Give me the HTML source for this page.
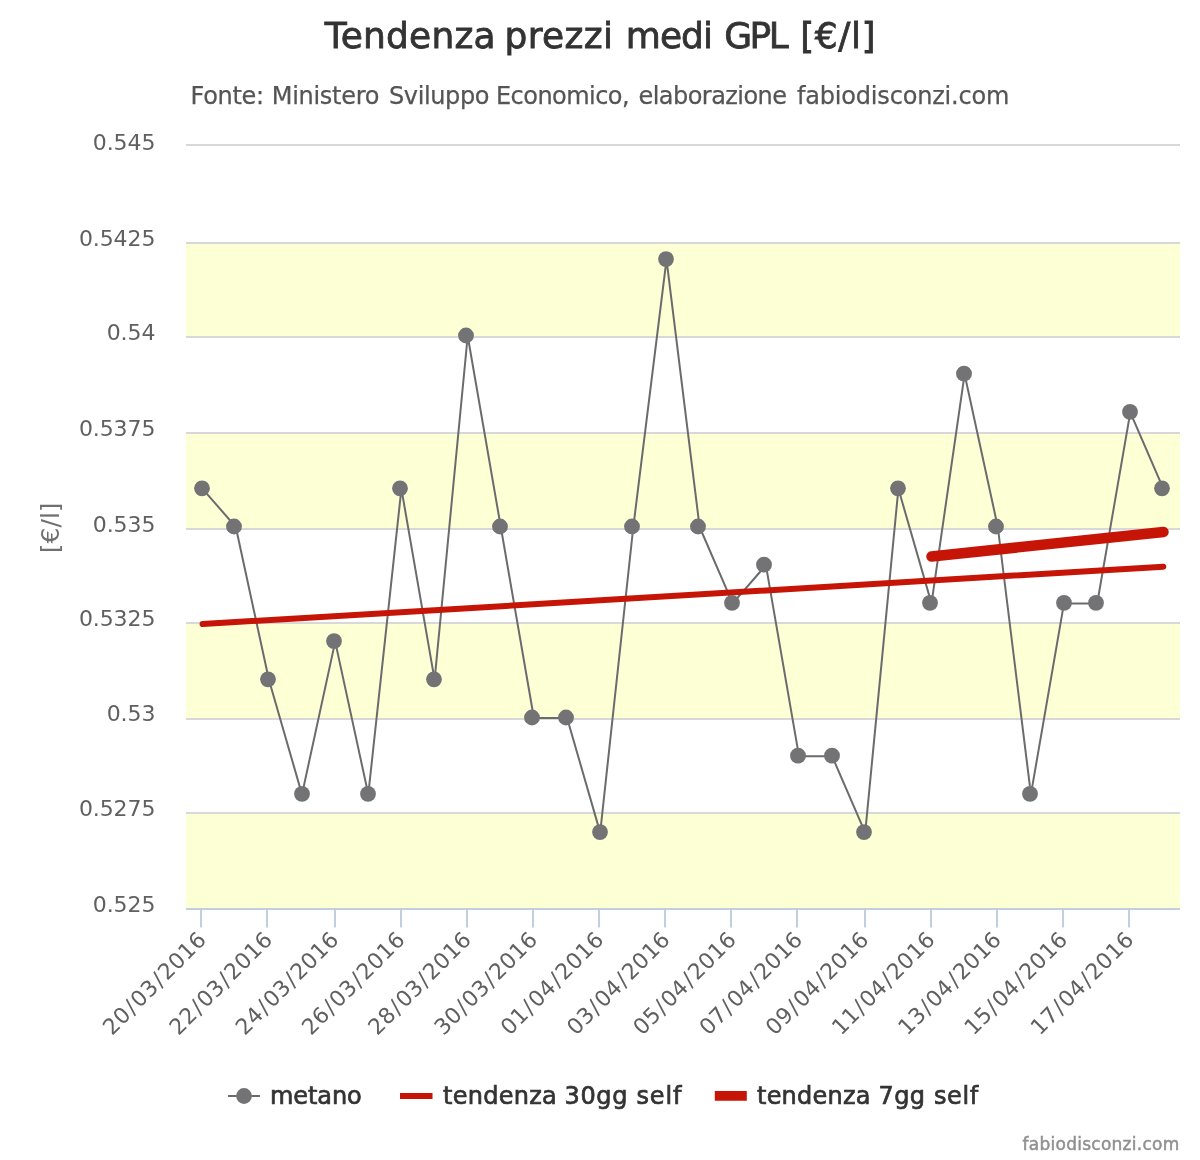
<!DOCTYPE html>
<html lang="it"><head><meta charset="utf-8"><title>Tendenza prezzi medi GPL</title>
<style>html,body{margin:0;padding:0;background:#fff}body{width:1200px;height:1160px;overflow:hidden}svg{display:block}text{font-family:"DejaVu Sans", "Liberation Sans", sans-serif}</style></head><body>
<svg width="1200" height="1160" viewBox="0 0 1200 1160">
<rect x="0" y="0" width="1200" height="1160" fill="#ffffff"/>
<g fill="#FDFFD5">
<rect x="186" y="243" width="994" height="94"/>
<rect x="186" y="433" width="994" height="96"/>
<rect x="186" y="623" width="994" height="96"/>
<rect x="186" y="813" width="994" height="96"/>
</g>
<g stroke="#D8D8D8" stroke-width="2" fill="none">
<path d="M186 145 H1180"/>
<path d="M186 243 H1180"/>
<path d="M186 337 H1180"/>
<path d="M186 433 H1180"/>
<path d="M186 529 H1180"/>
<path d="M186 623 H1180"/>
<path d="M186 719 H1180"/>
<path d="M186 813 H1180"/>
</g>
<g stroke="#C0D0E0" stroke-width="2" fill="none">
<path d="M186 909 H1180"/>
<path d="M201 909 V927.5"/>
<path d="M267 909 V927.5"/>
<path d="M335 909 V927.5"/>
<path d="M401 909 V927.5"/>
<path d="M467 909 V927.5"/>
<path d="M533 909 V927.5"/>
<path d="M599 909 V927.5"/>
<path d="M665 909 V927.5"/>
<path d="M731 909 V927.5"/>
<path d="M797 909 V927.5"/>
<path d="M865 909 V927.5"/>
<path d="M931 909 V927.5"/>
<path d="M997 909 V927.5"/>
<path d="M1063 909 V927.5"/>
<path d="M1129 909 V927.5"/>
</g>
<path d="M202.6 488.8 L235.8 527.0 L268.9 679.8 L302.0 794.4 L335.2 641.6 L368.3 794.4 L401.4 488.8 L434.6 679.8 L467.7 336.0 L500.8 527.0 L533.9 718.0 L567.1 718.0 L600.2 832.6 L633.3 527.0 L666.5 259.6 L699.6 527.0 L732.7 603.4 L765.9 565.2 L799.0 756.2 L832.1 756.2 L865.2 832.6 L898.4 488.8 L931.5 603.4 L964.6 374.2 L997.8 527.0 L1030.9 794.4 L1064.0 603.4 L1097.2 603.4 L1130.3 412.4 L1163.4 488.8" stroke="#6B6B6E" stroke-width="2" fill="none" stroke-linejoin="round" stroke-linecap="round"/>
<path d="M202.6 624 L1163.3 566.7" stroke="#C61407" stroke-width="6" fill="none" stroke-linecap="round"/>
<path d="M931.5 556.5 L1163.5 532" stroke="#C61407" stroke-width="10.5" fill="none" stroke-linecap="round"/>
<g fill="#737376">
<circle cx="202" cy="488.3" r="7.9"/>
<circle cx="234" cy="526.5" r="7.9"/>
<circle cx="268" cy="679.3" r="7.9"/>
<circle cx="302" cy="793.9" r="7.9"/>
<circle cx="334" cy="641.1" r="7.9"/>
<circle cx="368" cy="793.9" r="7.9"/>
<circle cx="400" cy="488.3" r="7.9"/>
<circle cx="434" cy="679.3" r="7.9"/>
<circle cx="466" cy="335.5" r="7.9"/>
<circle cx="500" cy="526.5" r="7.9"/>
<circle cx="532" cy="717.5" r="7.9"/>
<circle cx="566" cy="717.5" r="7.9"/>
<circle cx="600" cy="832.1" r="7.9"/>
<circle cx="632" cy="526.5" r="7.9"/>
<circle cx="666" cy="259.1" r="7.9"/>
<circle cx="698" cy="526.5" r="7.9"/>
<circle cx="732" cy="602.9" r="7.9"/>
<circle cx="764" cy="564.7" r="7.9"/>
<circle cx="798" cy="755.7" r="7.9"/>
<circle cx="832" cy="755.7" r="7.9"/>
<circle cx="864" cy="832.1" r="7.9"/>
<circle cx="898" cy="488.3" r="7.9"/>
<circle cx="930" cy="602.9" r="7.9"/>
<circle cx="964" cy="373.7" r="7.9"/>
<circle cx="996" cy="526.5" r="7.9"/>
<circle cx="1030" cy="793.9" r="7.9"/>
<circle cx="1064" cy="602.9" r="7.9"/>
<circle cx="1096" cy="602.9" r="7.9"/>
<circle cx="1130" cy="411.9" r="7.9"/>
<circle cx="1162" cy="488.3" r="7.9"/>
</g>
<text y="47.5" font-size="36" fill="#333333" stroke="#333333" stroke-width="0.8"><tspan x="324.75" letter-spacing="0.171">Tendenza</tspan> <tspan x="504.50" letter-spacing="0.339">prezzi</tspan> <tspan x="625.75" letter-spacing="-0.939">medi</tspan> <tspan x="724.25" letter-spacing="-2.553">GPL</tspan> <tspan x="800.25" letter-spacing="0.542">[€/l]</tspan></text>
<text y="103.7" font-size="24" fill="#555555" stroke="#555555" stroke-width="0.25"><tspan x="190.50" letter-spacing="-0.304">Fonte:</tspan> <tspan x="271.75" letter-spacing="-0.284">Ministero</tspan> <tspan x="389.00" letter-spacing="-0.386">Sviluppo</tspan> <tspan x="496.00" letter-spacing="-0.540">Economico,</tspan> <tspan x="638.50" letter-spacing="-0.549">elaborazione</tspan> <tspan x="797.00" letter-spacing="-0.188">fabiodisconzi.com</tspan></text>
<g font-size="22" fill="#606060" text-anchor="end" letter-spacing="-0.1">
<text x="155.3" y="149.6">0.545</text>
<text x="155.3" y="245.6">0.5425</text>
<text x="155.3" y="339.7">0.54</text>
<text x="155.3" y="435.6">0.5375</text>
<text x="155.3" y="531.5">0.535</text>
<text x="155.3" y="625.6">0.5325</text>
<text x="155.3" y="721.4">0.53</text>
<text x="155.3" y="815.6">0.5275</text>
<text x="155.3" y="911.5">0.525</text>
</g>
<text transform="translate(59.4 527.8) rotate(-90)" text-anchor="middle" font-size="25" fill="#707070">[€/l]</text>
<g font-size="22" fill="#606060" text-anchor="end" letter-spacing="0.3">
<text transform="translate(207.5 940.8) rotate(-45)" dx="0 0 1.25 1.25 0 1.25 1.25 0 0 0">20/03/2016</text>
<text transform="translate(273.8 940.8) rotate(-45)" dx="0 0 1.25 1.25 0 1.25 1.25 0 0 0">22/03/2016</text>
<text transform="translate(340.1 940.8) rotate(-45)" dx="0 0 1.25 1.25 0 1.25 1.25 0 0 0">24/03/2016</text>
<text transform="translate(406.3 940.8) rotate(-45)" dx="0 0 1.25 1.25 0 1.25 1.25 0 0 0">26/03/2016</text>
<text transform="translate(472.6 940.8) rotate(-45)" dx="0 0 1.25 1.25 0 1.25 1.25 0 0 0">28/03/2016</text>
<text transform="translate(538.8 940.8) rotate(-45)" dx="0 0 1.25 1.25 0 1.25 1.25 0 0 0">30/03/2016</text>
<text transform="translate(605.1 940.8) rotate(-45)" dx="0 0 1.25 1.25 0 1.25 1.25 0 0 0">01/04/2016</text>
<text transform="translate(671.4 940.8) rotate(-45)" dx="0 0 1.25 1.25 0 1.25 1.25 0 0 0">03/04/2016</text>
<text transform="translate(737.6 940.8) rotate(-45)" dx="0 0 1.25 1.25 0 1.25 1.25 0 0 0">05/04/2016</text>
<text transform="translate(803.9 940.8) rotate(-45)" dx="0 0 1.25 1.25 0 1.25 1.25 0 0 0">07/04/2016</text>
<text transform="translate(870.1 940.8) rotate(-45)" dx="0 0 1.25 1.25 0 1.25 1.25 0 0 0">09/04/2016</text>
<text transform="translate(936.4 940.8) rotate(-45)" dx="0 0 1.25 1.25 0 1.25 1.25 0 0 0">11/04/2016</text>
<text transform="translate(1002.7 940.8) rotate(-45)" dx="0 0 1.25 1.25 0 1.25 1.25 0 0 0">13/04/2016</text>
<text transform="translate(1068.9 940.8) rotate(-45)" dx="0 0 1.25 1.25 0 1.25 1.25 0 0 0">15/04/2016</text>
<text transform="translate(1135.2 940.8) rotate(-45)" dx="0 0 1.25 1.25 0 1.25 1.25 0 0 0">17/04/2016</text>
</g>
<path d="M228 1096 H260" stroke="#6B6B6E" stroke-width="2" fill="none"/>
<circle cx="244" cy="1096" r="7.9" fill="#737376"/>
<path d="M400 1096 H432.5" stroke="#C61407" stroke-width="6" fill="none"/>
<path d="M714.8 1095.9 H746.8" stroke="#C61407" stroke-width="9.8" fill="none"/>
<text y="1103.7" font-size="24" fill="#333333" stroke="#333333" stroke-width="0.7"><tspan x="270.00" letter-spacing="-0.095">metano</tspan></text>
<text y="1103.7" font-size="24" fill="#333333" stroke="#333333" stroke-width="0.7"><tspan x="443.00" letter-spacing="0.258">tendenza</tspan> <tspan x="564.50" letter-spacing="0.659">30gg</tspan> <tspan x="636.50" letter-spacing="0.854">self</tspan></text>
<text y="1103.7" font-size="24" fill="#333333" stroke="#333333" stroke-width="0.7"><tspan x="757.00" letter-spacing="0.222">tendenza</tspan> <tspan x="878.50" letter-spacing="0.373">7gg</tspan> <tspan x="934.00" letter-spacing="0.604">self</tspan></text>
<text y="1149.7" font-size="17" fill="#909090" stroke="#909090" stroke-width="0.5"><tspan x="1022.50" letter-spacing="0.262">fabiodisconzi.com</tspan></text>
</svg></body></html>
